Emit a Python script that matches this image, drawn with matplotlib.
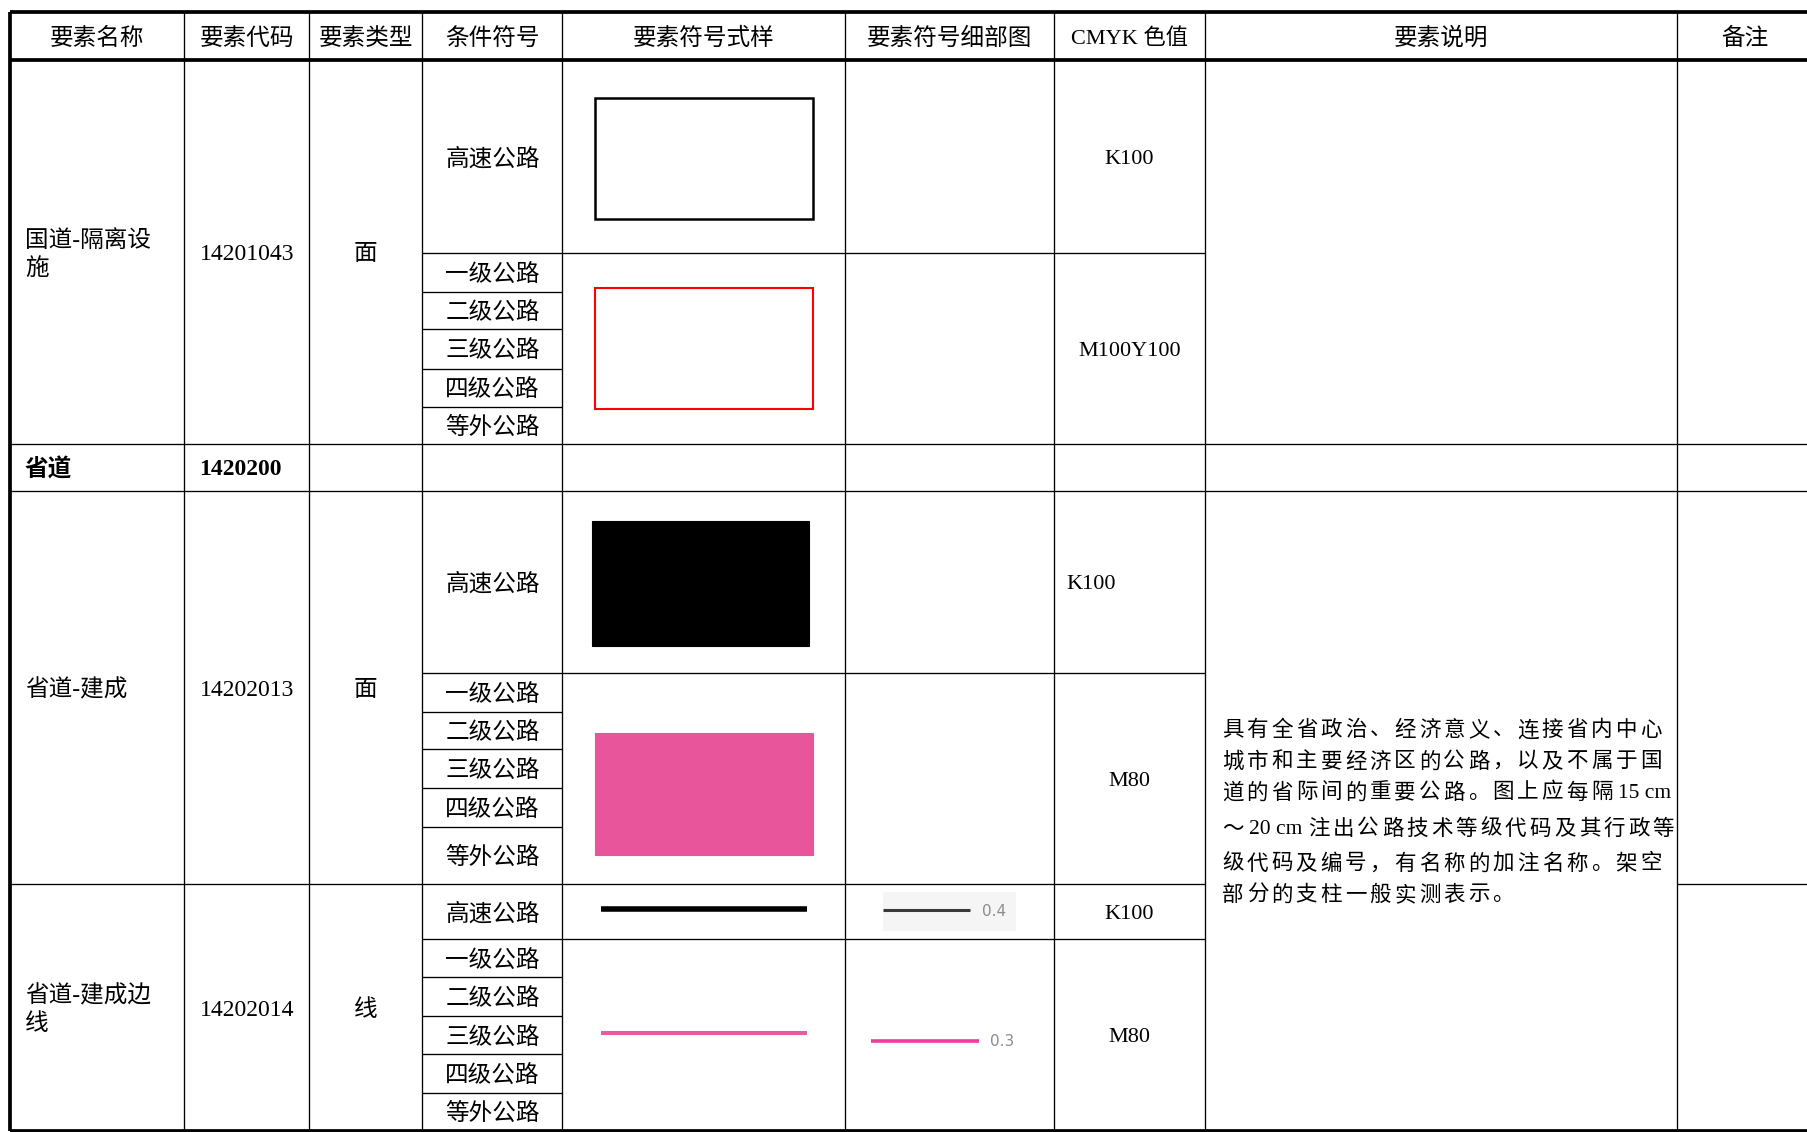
import matplotlib.pyplot as plt
from matplotlib.patches import Rectangle

plt.rcParams['font.family'] = ['Liberation Serif', 'Noto Sans CJK SC']

# table content
headers = ["要素名称", "要素代码", "要素类型", "条件符号", "要素符号式样",
           "要素符号细部图", "CMYK 色值", "要素说明", "备注"]
names = ["国道-隔离设\n施", "省道", "省道-建成", "省道-建成边\n线"]
codes = ["14201043", "1420200", "14202013", "14202014"]
types = ["面", "", "面", "线"]
grades = ["高速公路", "一级公路", "二级公路", "三级公路", "四级公路", "等外公路"]
cmyk_1 = ["K100", "M100Y100"]
cmyk_3 = ["K100", "M80"]
cmyk_4 = ["K100", "M80"]
detail_widths = ["0.4", "0.3"]
desc_lines = [
    "具有全省政治、经济意义、连接省内中心",
    "城市和主要经济区的公路，以及不属于国",
    "道的省际间的重要公路。图上应每隔15 cm",
    "～20 cm注出公路技术等级代码及其行政等",
    "级代码及编号，有名称的加注名称。架空",
    "部分的支柱一般实测表示。",
]

# layout (pixels)
W, H = 1807, 1132
X = [9.6, 184.5, 309, 422.5, 562.5, 845.5, 1053.6, 1205.4, 1677.3, 1812]
Y_TOP, Y_HEAD = 12.2, 60.3
G1 = [60.3, 252.7, 291.5, 329.3, 368.5, 406.6, 444.3]
ROW_SD = [444.3, 490.6]
G2 = [490.6, 673.2, 711.5, 749.3, 788.3, 826.5, 884.4]
G3 = [884.4, 939.4, 977.2, 1016.2, 1054.4, 1092.7, 1130.9]
Y_BOT = 1130.9

THIN = 0.95
THICK = 2.7
PINK = '#E8559A'
DY = 2.5  # text sits a little lower than the geometric centre

fig = plt.figure(figsize=(W / 100, H / 100), dpi=100)
ax = fig.add_axes([0, 0, 1, 1])
ax.set_xlim(0, W)
ax.set_ylim(H, 0)
ax.axis('off')


def hline(y, x0, x1, lw=THIN):
    ax.plot([x0, x1], [y, y], color='black', lw=lw, solid_capstyle='butt')


def txt(x, y, s, **kw):
    kw.setdefault('va', 'center')
    ax.text(x, y + DY, s, **kw)


def cx(i):
    return (X[i] + X[i + 1]) / 2


def cy(a, b):
    return (a + b) / 2


# grid
hline(Y_TOP, X[0], W + 5, THICK)
hline(Y_HEAD, X[0], W + 5, THICK)
hline(Y_BOT, X[0], W + 5, THICK)
for y in ROW_SD:
    hline(y, X[0], W + 5)
hline(G2[-1], X[0], X[7])
hline(G2[-1], X[8], W + 5)
for g in (G1, G2, G3):
    hline(g[1], X[3], X[7])
    for y in g[2:-1]:
        hline(y, X[3], X[4])
for i, x in enumerate(X[:-1]):
    ax.plot([x, x], [Y_TOP, Y_BOT], color='black',
            lw=THICK if i == 0 else THIN, solid_capstyle='butt')

CJK = 17
LAT = 16

# header
for i, h in enumerate(headers):
    txt(cx(i), cy(Y_TOP, Y_HEAD), h, ha='center',
        fontsize=16 if h.startswith("CMYK") else CJK)

# name / code / type columns
groups = [(G1[0], G1[-1]), (ROW_SD[0], ROW_SD[1]), (G2[0], G2[-1]), (G3[0], G3[-1])]
for k, (a, b) in enumerate(groups):
    bold = (k == 1)
    txt(25, cy(a, b), names[k], ha='left', fontsize=CJK,
        linespacing=1.35, fontweight='bold' if bold else 'normal')
    if bold:
        txt(199, cy(a, b), codes[k], ha='left', fontsize=LAT + 1, fontweight='bold')
    else:
        txt(cx(1), cy(a, b), codes[k], ha='center', fontsize=LAT + 1)
    if types[k]:
        txt(cx(2), cy(a, b), types[k], ha='center', fontsize=CJK)

# condition symbols
for g in (G1, G2, G3):
    for j, name in enumerate(grades):
        txt(cx(3), cy(g[j], g[j + 1]), name, ha='center', fontsize=CJK)

# CMYK values
txt(cx(6), cy(G1[0], G1[1]), cmyk_1[0], ha='center', fontsize=LAT)
txt(cx(6), cy(G1[1], G1[-1]), cmyk_1[1], ha='center', fontsize=LAT)
txt(X[6] + 13, cy(G2[0], G2[1]), cmyk_3[0], ha='left', fontsize=LAT)
txt(cx(6), cy(G2[1], G2[-1]), cmyk_3[1], ha='center', fontsize=LAT)
txt(cx(6), cy(G3[0], G3[1]), cmyk_4[0], ha='center', fontsize=LAT)
txt(cx(6), cy(G3[1], G3[-1]), cmyk_4[1], ha='center', fontsize=LAT)

# symbol samples
ax.add_patch(Rectangle((595.5, 98), 217.5, 120.6, fill=False, ec='black', lw=1.8))
ax.add_patch(Rectangle((595.5, 288.2), 217.5, 121, fill=False, ec='#FF0000', lw=1.5))
ax.add_patch(Rectangle((592, 521.3), 217.4, 124.5, fc='black', ec='black', lw=0.8))
ax.add_patch(Rectangle((595, 733.4), 218.4, 121.7, fc=PINK, ec=PINK, lw=0.8))
ax.plot([601, 807], [908.6, 908.6], color='black', lw=4.0, solid_capstyle='butt')
ax.plot([601, 807], [1033.3, 1033.3], color='#EC5A9E', lw=2.9, solid_capstyle='butt')

# detail drawings
ax.add_patch(Rectangle((883, 892), 133.5, 38.5, fc='#F5F5F5', ec='none'))
ax.plot([883, 969.6], [910.4, 910.4], color='#3A3A3A', lw=2.2, solid_capstyle='butt')
ax.text(982, 912, detail_widths[0], ha='left', va='center', fontsize=11,
        color='#8C8C8C', family='DejaVu Sans')
ax.plot([871, 979.5], [1040.7, 1040.7], color='#EE3B9D', lw=2.6, solid_capstyle='butt')
ax.text(990, 1042, detail_widths[1], ha='left', va='center', fontsize=11,
        color='#8C8C8C', family='DejaVu Sans')

# description, justified: CJK chars one by one, latin runs as a block
desc_y = [728.6, 760.0, 791.0, 827.5, 862.3, 893.3]
adv = 24.6
for line, y in zip(desc_lines, desc_y):
    x = 1220.4
    runs = []
    for ch in line:
        if ord(ch) <= 255 and runs and runs[-1][1]:
            runs[-1][0] += ch
        else:
            runs.append([ch, ord(ch) <= 255])
    for s, latin in runs:
        if latin:
            w = len(s) * adv / 2
            txt(x + w / 2, y, s, ha='center', fontsize=15.5)
        else:
            w = adv
            txt(x + w / 2, y, s, ha='center', fontsize=15.5)
        x += w

fig.savefig('out.png', dpi=100)
